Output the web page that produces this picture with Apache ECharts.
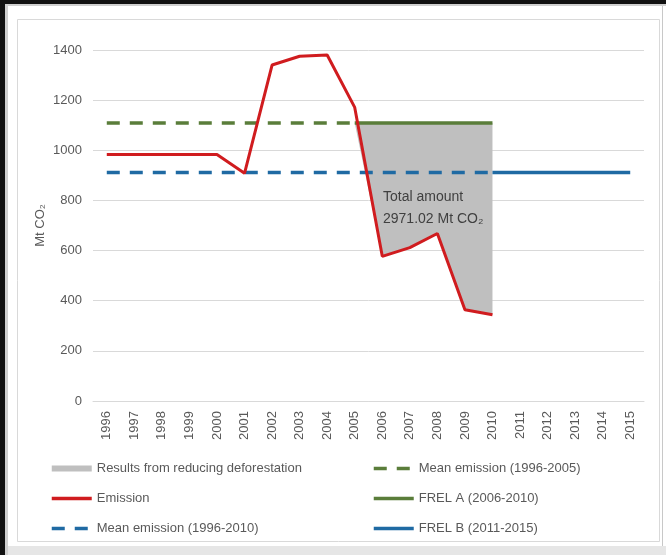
<!DOCTYPE html>
<html>
<head>
<meta charset="utf-8">
<script src="https://cdn.jsdelivr.net/npm/echarts@6/dist/echarts.min.js"></script>
<style>
  html, body { margin: 0; padding: 0; background: #fff; }
  #chart { width: 666px; height: 555px; }
</style>
</head>
<body>
<div id="chart"></div>
<script>
// values
var years = ['1996', '1997', '1998', '1999', '2000', '2001', '2002', '2003', '2004', '2005',
             '2006', '2007', '2008', '2009', '2010', '2011', '2012', '2013', '2014', '2015'];
var emission = [983, 983, 983, 983, 983, 908, 1340, 1375, 1380, 1171,
                577, 612, 668, 364, 344, null, null, null, null, null];
var meanA = 1109;   // mean 1996-2005, also FREL A
var meanB = 911;    // mean 1996-2010, also FREL B
var yTicks = [0, 200, 400, 600, 800, 1000, 1200, 1400];
var noteLines = ['Total amount', '2971.02 Mt CO₂'];

var grey = '#595959';
var font = 'Liberation Sans, Arial, sans-serif';

// flat line over a range of year indices
function flat(value, from, to) {
    return years.map(function (y, i) { return (i >= from && i <= to) ? value : null; });
}

var meanEmissionA = flat(meanA, 0, 9);
var frelA = flat(meanA, 9, 14);
var meanEmissionB = flat(meanB, 0, 14);
var frelB = flat(meanB, 14, 19);

// gray area between FREL A and emission, 2005-2010
var gapBase = years.map(function (y, i) {
    return (i >= 9 && i <= 14) ? Math.min(emission[i], meanA) : null;
});
var gapTop = years.map(function (y, i) {
    return (i >= 9 && i <= 14) ? meanA - gapBase[i] : null;
});

var chart = echarts.init(document.getElementById('chart'));

var dash = [13, 10];
var legendBase = {
    orient: 'vertical', top: 462, padding: 0,
    itemWidth: 40, itemHeight: 14, itemGap: 17,
    itemStyle: { opacity: 0 },   // hide the circle, keep the line
    lineStyle: { width: 3.5 },
    textStyle: { color: grey, fontSize: 13, fontFamily: font }
};

var option = {
    animation: false,
    backgroundColor: '#fff',
    textStyle: { fontFamily: font },
    grid: { left: 93, right: 22, top: 50, bottom: 154 },
    xAxis: {
        type: 'category',
        data: years,
        boundaryGap: true,
        axisLine: { lineStyle: { color: '#d9d9d9' } },
        axisTick: { show: false },
        axisLabel: { rotate: 90, color: grey, fontSize: 13, margin: 10, fontFamily: font }
    },
    yAxis: {
        type: 'value',
        min: yTicks[0],
        max: yTicks[yTicks.length - 1],
        interval: 200,
        name: 'Mt CO₂',
        nameLocation: 'middle',
        nameRotate: 90,
        nameGap: 46,
        nameMoveOverlap: false,
        nameTextStyle: { color: grey, fontSize: 13, fontFamily: font },
        axisLine: { show: false },
        axisTick: { show: false },
        axisLabel: {
            color: grey, fontSize: 13, margin: 11, fontFamily: font,
            formatter: function (v) { return String(v); }
        },
        splitLine: { lineStyle: { color: '#d9d9d9', width: 1 } }
    },
    legend: [
        Object.assign({}, legendBase, {
            left: 50,
            data: [
                { name: 'Results from reducing deforestation', icon: 'path://M0,4 L40,4 L40,10 L0,10 Z',
                  itemStyle: { color: '#bfbfbf', opacity: 1 } },
                'Emission',
                'Mean emission (1996-2010)'
            ]
        }),
        Object.assign({}, legendBase, {
            left: 372,
            data: ['Mean emission (1996-2005)', 'FREL A (2006-2010)', 'FREL B (2011-2015)']
        })
    ],
    graphic: [
        // frame of the screenshot
        { type: 'rect', shape: { x: 0, y: 0, width: 5, height: 555 }, style: { fill: '#111' } },
        { type: 'rect', shape: { x: 0, y: 0, width: 666, height: 4 }, style: { fill: '#111' } },
        { type: 'rect', shape: { x: 5, y: 4, width: 3, height: 551 }, style: { fill: '#cfcfcf' } },
        { type: 'rect', shape: { x: 5, y: 4, width: 661, height: 2 }, style: { fill: '#cfcfcf' } },
        { type: 'rect', shape: { x: 17.5, y: 19.5, width: 642, height: 522 },
          style: { fill: null, stroke: '#d9d9d9', lineWidth: 1 } },
        { type: 'rect', shape: { x: 662, y: 6, width: 1, height: 540 }, style: { fill: '#c8c8c8' } },
        { type: 'rect', shape: { x: 8, y: 546, width: 658, height: 9 }, style: { fill: '#e6e6e6' } },
        // annotation inside the gray area
        {
            type: 'text', left: 383, top: 186, z: 100,
            style: { text: noteLines.join('\n'), fill: '#404040', fontSize: 14, lineHeight: 22,
                     fontFamily: font }
        }
    ],
    series: [
        {
            name: 'gapBase', type: 'line', stack: 'gap', data: gapBase,
            symbol: 'none', silent: true, lineStyle: { width: 0, opacity: 0 }, z: 1
        },
        {
            name: 'Results from reducing deforestation', type: 'line', stack: 'gap', data: gapTop,
            symbol: 'none', silent: true, color: '#bfbfbf',
            lineStyle: { width: 0, opacity: 0 },
            areaStyle: { color: '#bfbfbf', opacity: 1 }, z: 1
        },
        {
            name: 'Mean emission (1996-2005)', type: 'line', data: meanEmissionA, symbol: 'none',
            color: '#5a7d3a', lineStyle: { width: 3.5, type: dash, color: '#5a7d3a' }, z: 2
        },
        {
            name: 'FREL A (2006-2010)', type: 'line', data: frelA, symbol: 'none',
            color: '#5a7d3a', lineStyle: { width: 3.5, color: '#5a7d3a' }, z: 2
        },
        {
            name: 'Mean emission (1996-2010)', type: 'line', data: meanEmissionB, symbol: 'none',
            color: '#1f6aa3', lineStyle: { width: 3.5, type: dash, color: '#1f6aa3' }, z: 2
        },
        {
            name: 'FREL B (2011-2015)', type: 'line', data: frelB, symbol: 'none',
            color: '#1f6aa3', lineStyle: { width: 3.5, color: '#1f6aa3' }, z: 2
        },
        {
            name: 'Emission', type: 'line', data: emission, symbol: 'none',
            color: '#d01c1f', lineStyle: { width: 3, color: '#d01c1f' }, z: 3
        }
    ]
};

chart.setOption(option);
</script>
</body>
</html>
